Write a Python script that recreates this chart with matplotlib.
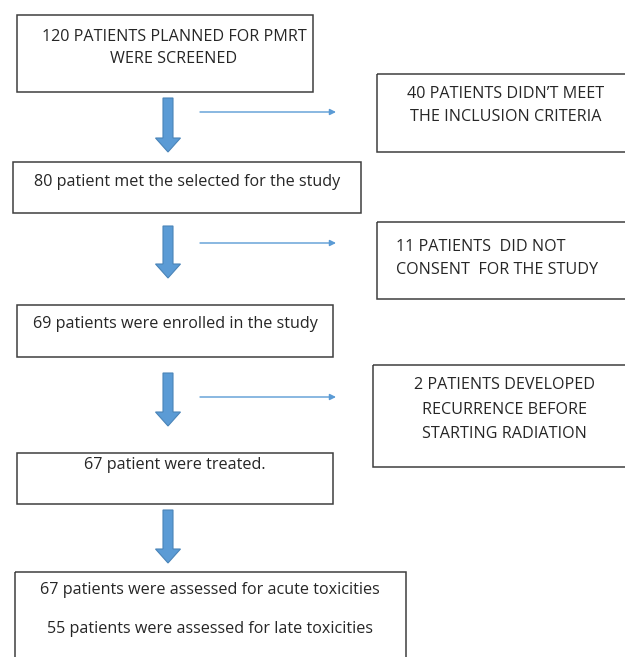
import matplotlib.pyplot as plt
from matplotlib.patches import Rectangle

# box texts, one list of lines per box (main flow on the left, exclusions on the right)
main_texts = [
    ["120 PATIENTS PLANNED FOR PMRT", "WERE SCREENED"],
    ["80 patient met the selected for the study"],
    ["69 patients were enrolled in the study"],
    ["67 patient were treated."],
    ["67 patients were assessed for acute toxicities",
     "55 patients were assessed for late toxicities"],
]
side_texts = [
    ["40 PATIENTS DIDN\u2019T MEET", "THE INCLUSION CRITERIA"],
    ["11 PATIENTS  DID NOT", "CONSENT  FOR THE STUDY"],
    ["2 PATIENTS DEVELOPED", "RECURRENCE BEFORE", "STARTING RADIATION"],
]

# layout in pixels (x0, y0, x1, y1), y grows downwards
main_boxes = [(17, 15, 313, 92), (13, 162, 361, 213), (17, 305, 333, 357),
              (17, 453, 333, 504), (15, 572, 406, 670)]
main_line_y = [[35, 57], [180], [322], [463], [588, 627]]
main_text_x = [174, 187, 175, 175, 210]
side_boxes = [(377, 74, 640, 152), (377, 222, 640, 299), (373, 365, 640, 467)]
side_line_y = [[92, 115], [245, 268], [383, 408, 432]]
side_text_x = [506, 396, 504]
side_align = ["center", "left", "center"]

# big down arrows (top, tip) and thin side arrows (y)
down_arrows = [(98, 152), (226, 278), (373, 426), (510, 563)]
side_arrow_y = [112, 243, 397]

plt.rcParams['font.family'] = ['Open Sans', 'DejaVu Sans']
fig = plt.figure(figsize=(6.25, 6.57), dpi=100)
ax = fig.add_axes([0, 0, 1, 1])
ax.set_xlim(0, 625)
ax.set_ylim(657, 0)
ax.axis('off')

edge = '#3f3f3f'
txt = '#262626'
fs = 11.6

for (x0, y0, x1, y1), lines, ys, tx in zip(main_boxes, main_texts, main_line_y,
                                           main_text_x):
    ax.add_patch(Rectangle((x0, y0), x1 - x0, y1 - y0, fill=False, ec=edge, lw=1.1))
    for t, ty in zip(lines, ys):
        ax.text(tx, ty, t, ha='center', va='center_baseline',
                fontsize=fs, color=txt)

for (x0, y0, x1, y1), lines, ys, tx, al in zip(side_boxes, side_texts, side_line_y,
                                              side_text_x, side_align):
    ax.add_patch(Rectangle((x0, y0), x1 - x0, y1 - y0, fill=False, ec=edge, lw=1.1))
    for t, ty in zip(lines, ys):
        ax.text(tx, ty, t, ha=al, va='center_baseline', fontsize=fs, color=txt)

for top, tip in down_arrows:
    ax.arrow(168, top, 0, tip - top, width=10, head_width=25, head_length=14,
             length_includes_head=True, fc='#5b9bd5', ec='#4a84b8', lw=0.8)

for y in side_arrow_y:
    ax.annotate('', xy=(336, y), xytext=(200, y),
                arrowprops=dict(arrowstyle='-|>', color='#5b9bd5', lw=1.0,
                                mutation_scale=9, shrinkA=0, shrinkB=0))

fig.savefig('out.png', dpi=100, facecolor='white')
